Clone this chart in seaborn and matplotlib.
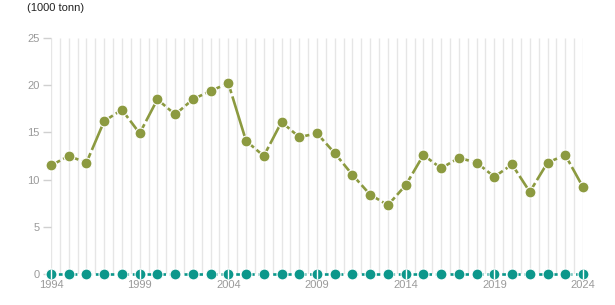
import matplotlib
matplotlib.use("Agg")
import matplotlib.pyplot as plt
import seaborn as sns
import pandas as pd
import numpy as np

years = list(range(1994, 2025))
series_a = [11.5, 12.5, 11.8, 16.2, 17.4, 14.9, 18.5, 16.9, 18.5, 19.4, 20.2,
            14.1, 12.5, 16.1, 14.5, 14.9, 12.8, 10.5, 8.4, 7.3, 9.4,
            12.6, 11.2, 12.3, 11.8, 10.3, 11.6, 8.7, 11.8, 12.6, 9.2]
series_b = [0.0] * len(years)
color_a = "#8c9a40"
color_b = "#0c978b"
y_ticks = [0, 5, 10, 15, 20, 25]
x_ticks = [1994, 1999, 2004, 2009, 2014, 2019, 2024]
unit_label = "(1000 tonn)"


def segments(xs, ys):
    rows = []
    for i in range(len(xs) - 1):
        rows.append((xs[i], ys[i], i))
        rows.append((xs[i + 1], ys[i + 1], i))
    return pd.DataFrame(rows, columns=["year", "value", "seg"])


df_a = pd.DataFrame({"year": years, "value": series_a})
df_b = pd.DataFrame({"year": years, "value": series_b})
seg_a = segments(years, series_a)

sns.set_theme(style="white")
plt.rcParams["font.family"] = ["Liberation Sans", "DejaVu Sans"]

fig = plt.figure(figsize=(6.15, 3.05), dpi=100)
ax = fig.add_axes([51 / 615, 31 / 305, 532 / 615, 236 / 305])

# vertical half-year grid
ax.vlines(np.arange(1994, 2024.01, 0.5), 0, 25, color="#e6e6e6", linewidth=1.0,
          zorder=0)
ax.grid(False)

# series A: each segment dashed from its start
sns.lineplot(data=seg_a, x="year", y="value", units="seg", estimator=None,
             color=color_a, linewidth=1.9, linestyle=(0, (3.9, 1.3, 60, 1)),
             legend=False, ax=ax, zorder=3, clip_on=False)
sns.scatterplot(data=df_a, x="year", y="value", color=color_a, s=62,
                edgecolor="white", linewidth=0.8, legend=False, ax=ax,
                zorder=4, clip_on=False)

# series B
sns.lineplot(data=df_b, x="year", y="value", color=color_b, linewidth=1.9,
             linestyle=(0, (1.4, 1.4)), legend=False, ax=ax, zorder=3,
             clip_on=False)
sns.scatterplot(data=df_b, x="year", y="value", color=color_b, s=62,
                edgecolor="white", linewidth=0.8, legend=False, ax=ax,
                zorder=4, clip_on=False)

ax.set_xlim(1994, 2024)
ax.set_ylim(0, 25)
ax.set_xticks(x_ticks)
ax.set_yticks(y_ticks)
ax.set_xlabel("")
ax.set_ylabel("")
for s in ax.spines.values():
    s.set_visible(False)

ax.tick_params(axis="y", which="major", left=True, length=6, width=1,
               color="#d0d0d0", labelcolor="#9a9a9a", labelsize=8, pad=2)
ax.tick_params(axis="x", which="major", bottom=True, direction="inout", length=7,
               width=1, color="white", labelcolor="#9a9a9a", labelsize=8, pad=1)
ax.xaxis.set_zorder(5)

fig.text(27 / 615, 1 - 8 / 305, unit_label, fontsize=8, color="#222222",
         ha="left", va="center")

fig.savefig("out.png", dpi=100)
